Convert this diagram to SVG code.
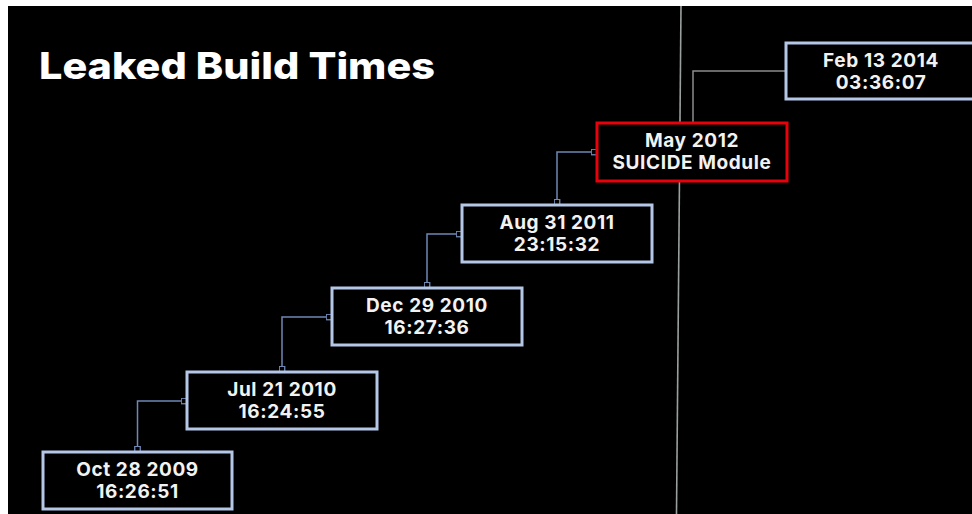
<svg xmlns="http://www.w3.org/2000/svg" width="972" height="514" viewBox="0 0 972 514">
<defs>
<style>
.box{fill:#000;stroke:#b4c7e7;stroke-width:3}
.red{fill:#000;stroke:#e8000b;stroke-width:3}
.t{font-family:Inter,"Open Sans","Liberation Sans",sans-serif;font-weight:700;font-size:19px;letter-spacing:0.6px;fill:#f2f2f2;text-anchor:middle}
.title{font-family:Inter,"Open Sans","Liberation Sans",sans-serif;font-weight:800;font-size:37px;fill:#fff}
.c{fill:none;stroke:#7088b4;stroke-width:1.5;marker-start:url(#sq);marker-end:url(#sq)}
.cg{fill:none;stroke:#8c8c8c;stroke-width:1.5}
</style>
<marker id="sq" viewBox="0 0 7 7" refX="6.5" refY="3.5" markerWidth="7" markerHeight="7" markerUnits="userSpaceOnUse" orient="auto-start-reverse">
<rect x="0.75" y="0.75" width="5.5" height="5.5" fill="#000" stroke="#7088b4" stroke-width="1.3"/>
</marker>
</defs>
<rect x="0" y="0" width="972" height="514" fill="#fff"/>
<rect x="8" y="6" width="964" height="508" fill="#000"/>
<text class="title" x="39" y="79" textLength="396" lengthAdjust="spacingAndGlyphs">Leaked Build Times</text>
<line x1="681" y1="6" x2="676.5" y2="514" stroke="#9aa0a0" stroke-width="1.6"/>
<g id="connectors">
<path class="c" d="M137.5,452 V401 H187"/>
<path class="c" d="M282,372 V317 H332"/>
<path class="c" d="M427,288 V234 H462"/>
<path class="c" d="M557,205 V152 H597"/>
<path class="cg" d="M693,123 V71 H786"/>
</g>
<g id="n1"><rect class="box" x="43" y="452" width="189" height="57"/><text class="t" x="137.5" y="476">Oct 28 2009</text><text class="t" x="137.5" y="498">16:26:51</text></g>
<g id="n2"><rect class="box" x="187" y="372" width="190" height="57"/><text class="t" x="282" y="396">Jul 21 2010</text><text class="t" x="282" y="418">16:24:55</text></g>
<g id="n3"><rect class="box" x="332" y="288" width="190" height="57"/><text class="t" x="427" y="312">Dec 29 2010</text><text class="t" x="427" y="334">16:27:36</text></g>
<g id="n4"><rect class="box" x="462" y="205" width="190" height="57"/><text class="t" x="557" y="229">Aug 31 2011</text><text class="t" x="557" y="251">23:15:32</text></g>
<g id="n5"><rect class="red" x="597" y="123" width="190" height="58"/><text class="t" x="692" y="147">May 2012</text><text class="t" x="692" y="169">SUICIDE Module</text></g>
<g id="n6"><rect class="box" x="786" y="43" width="200" height="56"/><text class="t" x="881" y="67">Feb 13 2014</text><text class="t" x="881" y="89">03:36:07</text></g>
</svg>
